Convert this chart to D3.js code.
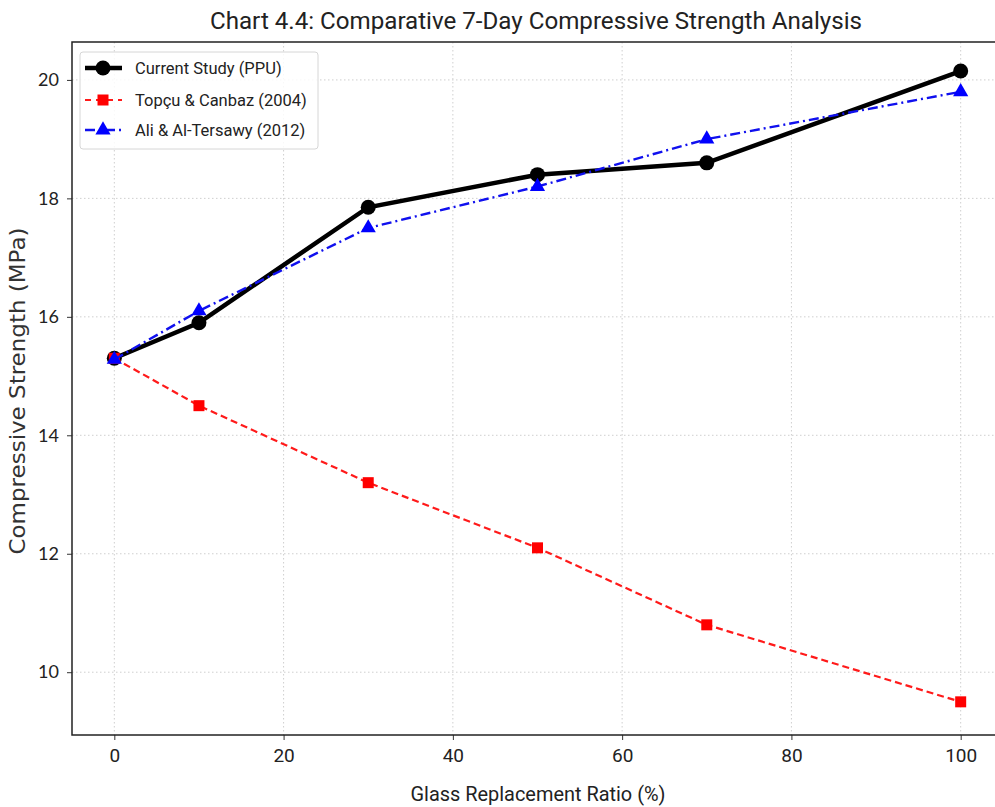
<!DOCTYPE html>
<html>
<head>
<meta charset="utf-8">
<script src="https://cdn.jsdelivr.net/npm/d3@7"></script>
<style>
  body { margin: 0; background: #fff; }
  svg text { font-family: "Roboto", "Liberation Sans", sans-serif; }
</style>
</head>
<body>
<svg id="chart" width="995" height="807"></svg>
<script>
// glass replacement ratio (%)
const ratios = [0, 10, 30, 50, 70, 100];
const currentStudy = [15.3, 15.9, 17.85, 18.4, 18.6, 20.15];
const topcuCanbaz = [15.3, 14.5, 13.2, 12.1, 10.8, 9.5];
const aliTersawy = [15.28, 16.1, 17.5, 18.2, 19.0, 19.8];
const xTicks = [0, 20, 40, 60, 80, 100];
const yTicks = [10, 12, 14, 16, 18, 20];
const seriesNames = ["Current Study (PPU)", "Topçu & Canbaz (2004)", "Ali & Al-Tersawy (2012)"];

// plot box runs a bit past the right edge of the image (cropped)
const plotL = 72, plotR = 1003, plotT = 42, plotB = 735;

const svg = d3.select("#chart");

const x = d3.scaleLinear().domain([-5, 105]).range([plotL, plotR]);
const y = d3.scaleLinear().domain([8.94, 20.64]).range([plotB, plotT]);

// grid
svg.append("g").selectAll("line").data(xTicks).enter().append("line")
  .attr("x1", d => x(d)).attr("x2", d => x(d))
  .attr("y1", plotT).attr("y2", plotB)
  .attr("stroke", "#cfcfcf").attr("stroke-width", 1).attr("stroke-dasharray", "1.5,2.5");
svg.append("g").selectAll("line").data(yTicks).enter().append("line")
  .attr("y1", d => y(d)).attr("y2", d => y(d))
  .attr("x1", plotL).attr("x2", plotR)
  .attr("stroke", "#cfcfcf").attr("stroke-width", 1).attr("stroke-dasharray", "1.5,2.5");

// axes
let xAxis = svg.append("g")
  .attr("transform", `translate(0,${plotB})`)
  .call(d3.axisBottom(x).tickValues(xTicks).tickSize(5).tickPadding(9));
let yAxis = svg.append("g")
  .attr("transform", `translate(${plotL},0)`)
  .call(d3.axisLeft(y).tickValues(yTicks).tickSize(5).tickPadding(8));
[xAxis, yAxis].forEach(a => {
  a.select(".domain").remove();
  a.selectAll("line").attr("stroke", "#333");
});
xAxis.selectAll("text").attr("font-size", 19).attr("fill", "#222")
  .style("font-family", "Roboto, sans-serif");
yAxis.selectAll("text").attr("font-size", 18).attr("fill", "#222")
  .style("font-family", "Lato, sans-serif");

// frame
svg.append("rect")
  .attr("x", plotL).attr("y", plotT)
  .attr("width", plotR - plotL)
  .attr("height", plotB - plotT)
  .attr("fill", "none").attr("stroke", "#222").attr("stroke-width", 1.5);

let line = d3.line()
  .x((d, i) => x(ratios[i]))
  .y(d => y(d));

// current study
svg.append("path").datum(currentStudy)
  .attr("d", line).attr("fill", "none")
  .attr("stroke", "black").attr("stroke-width", 4.5);
svg.append("g").selectAll("circle").data(currentStudy).enter().append("circle")
  .attr("cx", (d, i) => x(ratios[i])).attr("cy", d => y(d))
  .attr("r", 7.5).attr("fill", "black");

// topcu & canbaz
svg.append("path").datum(topcuCanbaz)
  .attr("d", line).attr("fill", "none")
  .attr("stroke", "#ff1a1a").attr("stroke-width", 2.2).attr("stroke-dasharray", "7,4");
svg.append("g").selectAll("rect").data(topcuCanbaz).enter().append("rect")
  .attr("x", (d, i) => x(ratios[i]) - 5.5).attr("y", d => y(d) - 5.5)
  .attr("width", 11).attr("height", 11).attr("fill", "#ff0000");

// ali & al-tersawy
svg.append("path").datum(aliTersawy)
  .attr("d", line).attr("fill", "none")
  .attr("stroke", "#1010ee").attr("stroke-width", 2.4).attr("stroke-dasharray", "10,4,2,4");
let tri = d3.symbol().type(d3.symbolTriangle).size(100);
svg.append("g").selectAll("path").data(aliTersawy).enter().append("path")
  .attr("d", tri)
  .attr("transform", (d, i) => `translate(${x(ratios[i])},${y(d)})`)
  .attr("fill", "#0000ff");

// legend
let lg = svg.append("g").attr("transform", "translate(80,52)");
lg.append("rect").attr("width", 238).attr("height", 97).attr("rx", 3)
  .attr("fill", "white").attr("fill-opacity", 0.85)
  .attr("stroke", "#d6d6d6");
const legY = [16, 48, 78];
lg.append("line").attr("x1", 5).attr("x2", 42).attr("y1", legY[0]).attr("y2", legY[0])
  .attr("stroke", "black").attr("stroke-width", 4.5);
lg.append("circle").attr("cx", 23).attr("cy", legY[0]).attr("r", 7.5).attr("fill", "black");
lg.append("line").attr("x1", 5).attr("x2", 42).attr("y1", legY[1]).attr("y2", legY[1])
  .attr("stroke", "#ff1a1a").attr("stroke-width", 2.2).attr("stroke-dasharray", "6,5");
lg.append("rect").attr("x", 17.5).attr("y", legY[1] - 5.5).attr("width", 11).attr("height", 11).attr("fill", "#ff0000");
lg.append("line").attr("x1", 5).attr("x2", 42).attr("y1", legY[2]).attr("y2", legY[2])
  .attr("stroke", "#1010ee").attr("stroke-width", 2.4).attr("stroke-dasharray", "10,4,2,4");
lg.append("path").attr("d", tri).attr("transform", `translate(23,${legY[2]})`).attr("fill", "#0000ff");
lg.selectAll("text.leg").data(seriesNames).enter().append("text")
  .attr("class", "leg")
  .attr("x", 55).attr("y", (d, i) => legY[i] + 6)
  .attr("font-size", 16.5).attr("fill", "#222")
  .text(d => d);

// titles
svg.append("text")
  .attr("x", 536).attr("y", 29).attr("text-anchor", "middle")
  .attr("font-size", 24).attr("fill", "#222")
  .attr("textLength", 652).attr("lengthAdjust", "spacingAndGlyphs")
  .text("Chart 4.4: Comparative 7-Day Compressive Strength Analysis");
svg.append("text")
  .attr("x", 538).attr("y", 801).attr("text-anchor", "middle")
  .attr("font-size", 20).attr("fill", "#222")
  .attr("textLength", 255).attr("lengthAdjust", "spacingAndGlyphs")
  .text("Glass Replacement Ratio (%)");
svg.append("text")
  .attr("transform", "translate(25,391) rotate(-90)")
  .attr("text-anchor", "middle")
  .attr("font-size", 21).attr("fill", "#333")
  .style("font-family", "DejaVu Sans, sans-serif")
  .attr("textLength", 327).attr("lengthAdjust", "spacingAndGlyphs")
  .text("Compressive Strength (MPa)");
</script>
</body>
</html>
